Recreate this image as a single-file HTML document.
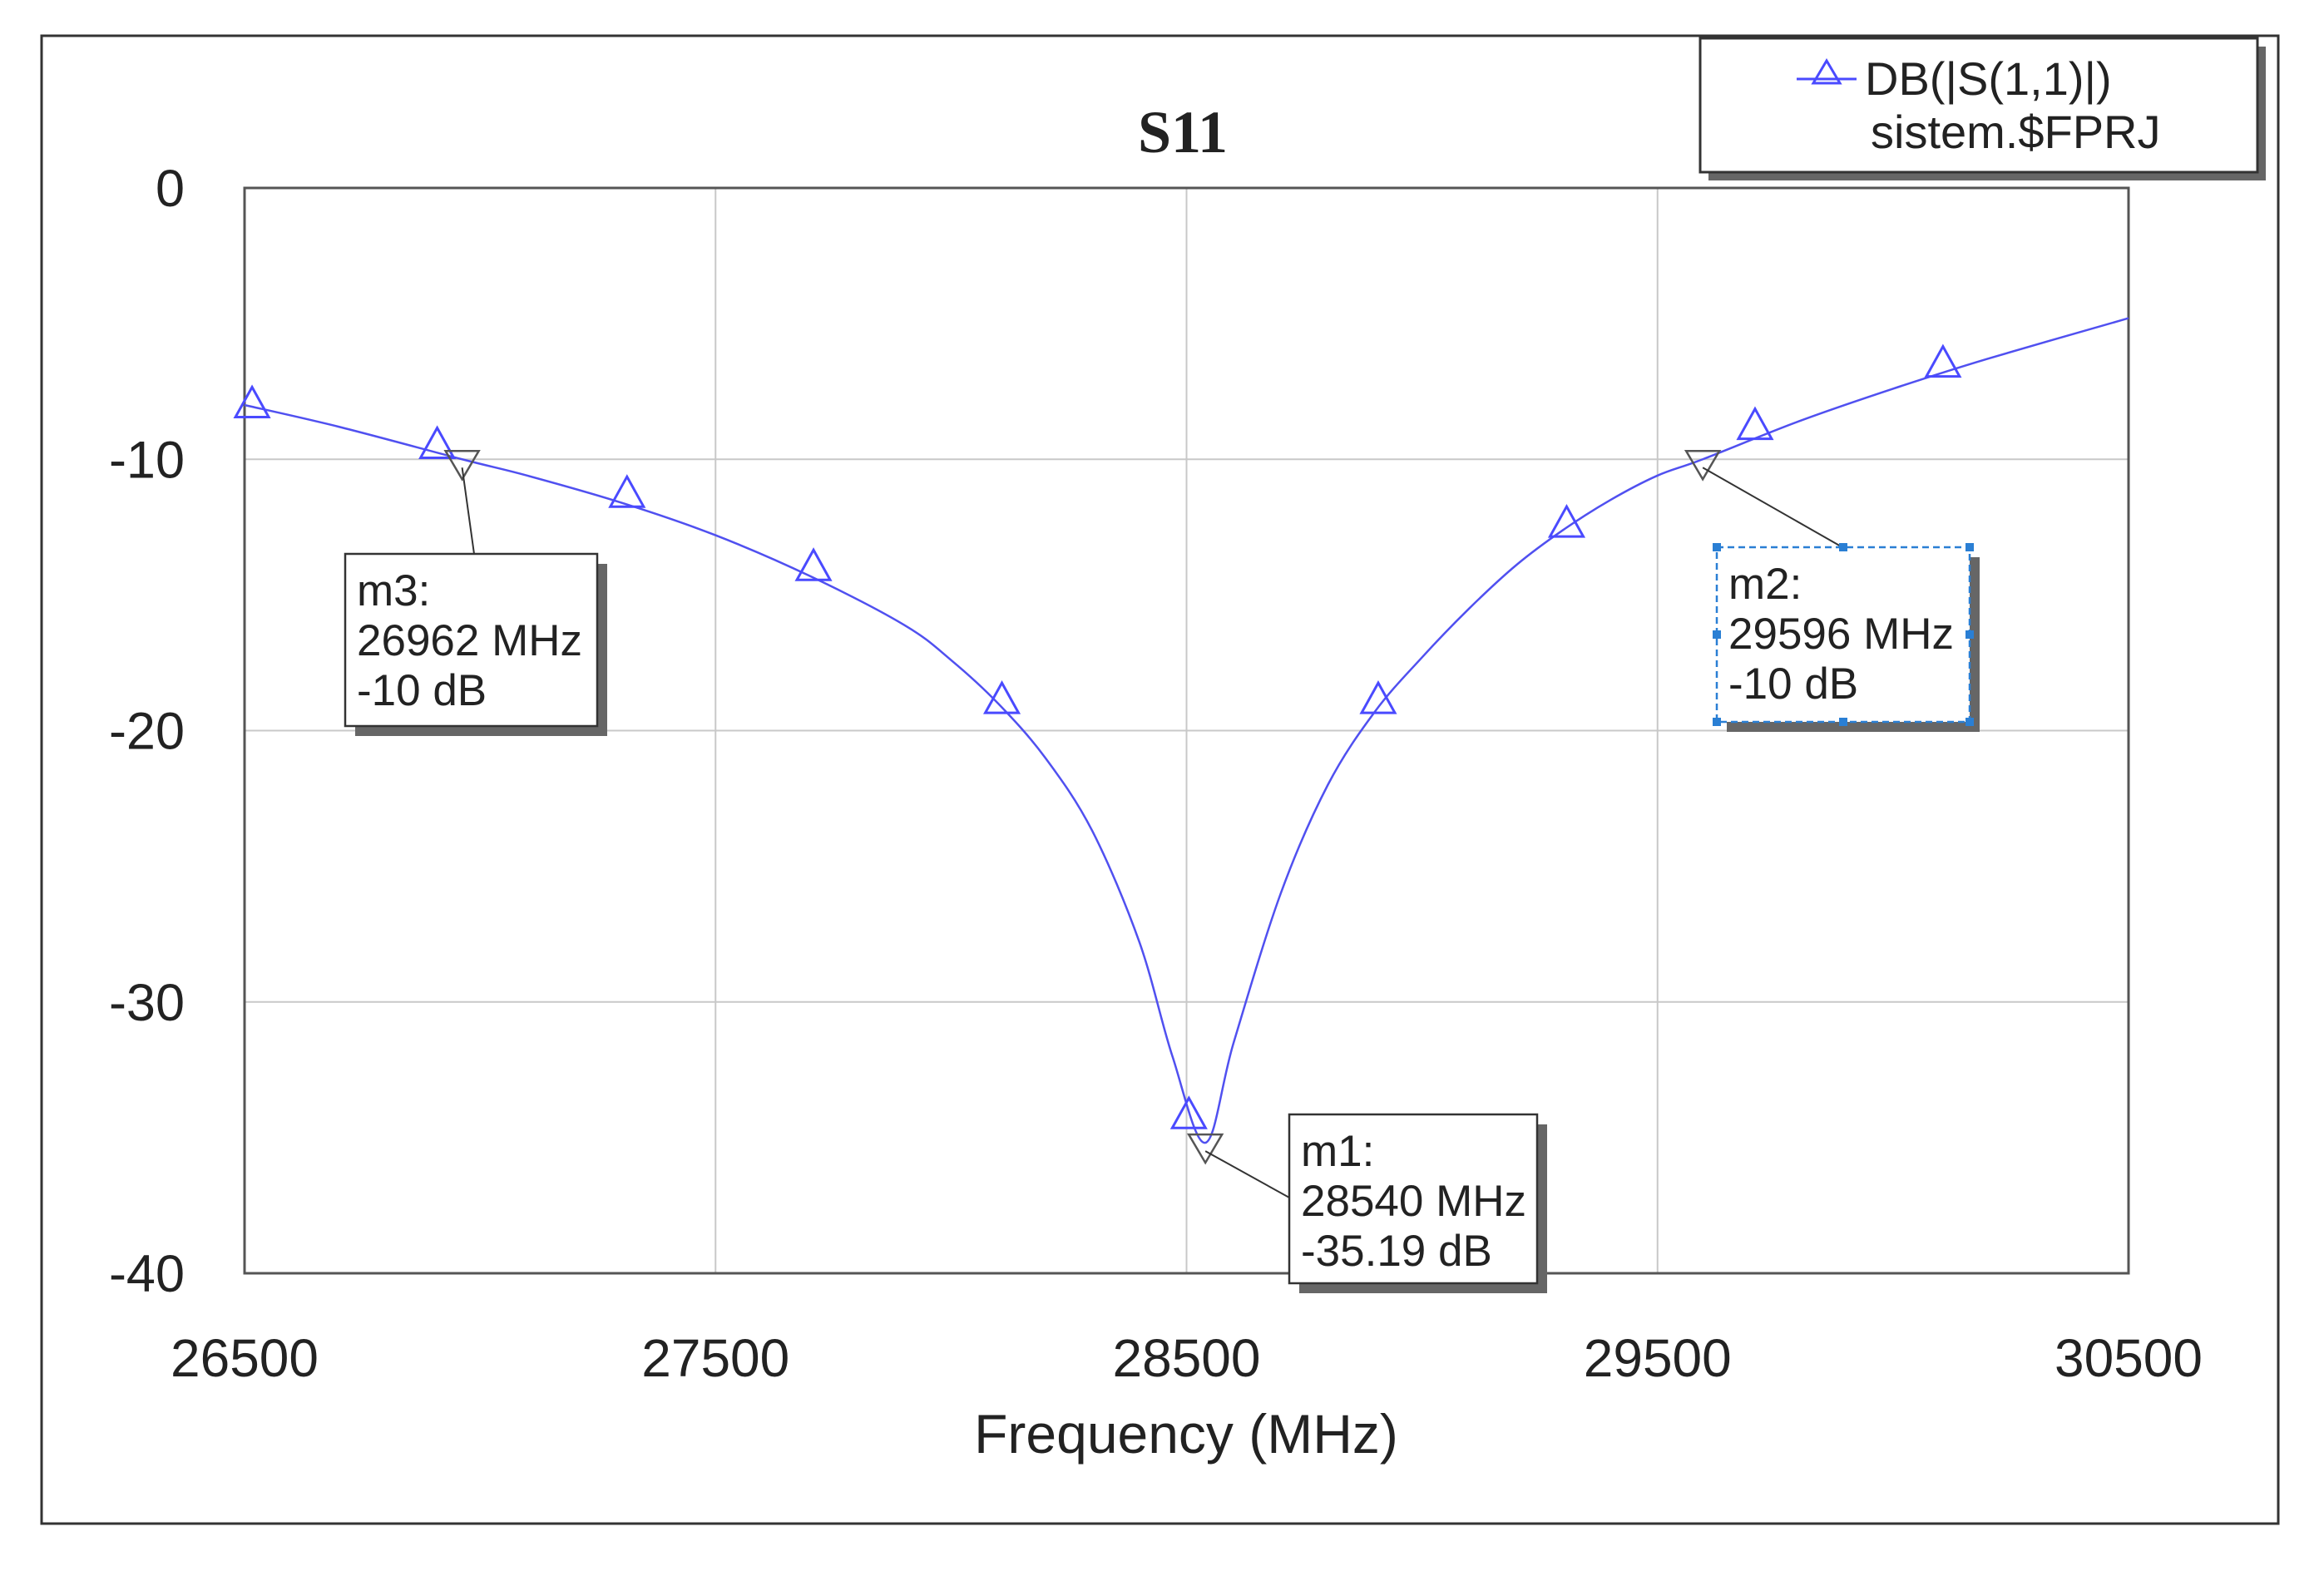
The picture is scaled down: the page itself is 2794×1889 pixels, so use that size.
<!DOCTYPE html>
<html><head><meta charset="utf-8"><style>
html,body{margin:0;padding:0;background:#fff;width:2794px;height:1889px;overflow:hidden}
svg{display:block}
text{font-family:"Liberation Sans",Arial,sans-serif;fill:#222}
</style></head><body>
<svg id="chart" width="2794" height="1889" viewBox="0 0 2794 1889" xmlns="http://www.w3.org/2000/svg">
<rect x="50" y="43" width="2689" height="1789" fill="#fff" stroke="#333" stroke-width="3"/>
<g id="grid"></g>
<rect x="294" y="226" width="2265" height="1305" fill="none" stroke="#555" stroke-width="3"/>
<text x="1422" y="183" font-size="72" font-weight="bold" text-anchor="middle" style="font-family:'Liberation Serif',serif">S11</text>
<g id="ticks"></g>
<text x="1426" y="1747" font-size="66" text-anchor="middle">Frequency (MHz)</text>
<g id="series"></g>
<g id="markers"></g>
<g>
<rect x="2054" y="56" width="670" height="161" fill="#666"/>
<rect x="2044" y="46" width="670" height="161" fill="#fff" stroke="#333" stroke-width="3"/>
<line x1="2160" y1="95" x2="2232" y2="95" stroke="#4a4aff" stroke-width="3"/>
<path d="M2196 73 L2180 100 L2212 100 Z" fill="none" stroke="#4a4aff" stroke-width="3"/>
<text x="2242" y="114" font-size="56">DB(|S(1,1)|)</text>
<text x="2249" y="178" font-size="56">sistem.$FPRJ</text>
</g>
</svg>
<script>
const freqs=[26500,26700,26962,27100,27300,27500,27700,27900,28000,28100,28200,28300,28400,28470,28540,28600,28700,28800,28900,29000,29100,29200,29300,29400,29500,29596,29800,30000,30200,30500];
const s11=[-8.0,-8.8,-10,-10.6,-11.6,-12.8,-14.3,-16.1,-17.4,-19.0,-21,-23.7,-27.8,-32.0,-35.19,-31.5,-26.0,-22.0,-19.3,-17.3,-15.5,-13.9,-12.6,-11.5,-10.6,-10,-8.6,-7.4,-6.3,-4.8];
const markerFreqs=[26516,26909,27312,27708,28108,28505,28907,29307,29707,30106];
const markerVals=[-8.2,-9.7,-11.5,-14.2,-19.1,-34.4,-19.1,-12.6,-9.0,-6.7];
const xTicks=[26500,27500,28500,29500,30500];
const yTicks=[0,-10,-20,-30,-40];
const mNames=["m1","m2","m3"];
const mFreqs=[28540,29596,26962];
const mVals=[-35.19,-10,-10];
const NS="http://www.w3.org/2000/svg";
const X0=294,X1=2559,Y0=226,Y1=1531;
function xs(f){return X0+(f-26500)/4000*(X1-X0);}
function ys(v){return Y0+(0-v)/40*(Y1-Y0);}
function mk(tag,attrs,parent,txt){const e=document.createElementNS(NS,tag);for(const k in attrs)e.setAttribute(k,attrs[k]);if(txt!==undefined)e.textContent=txt;parent.appendChild(e);return e;}
const grid=document.getElementById('grid'),ticks=document.getElementById('ticks');
xTicks.forEach(t=>{
  const l=mk('line',{x1:xs(t),x2:xs(t),y1:Y0,y2:Y1,stroke:'#c8c8c8','stroke-width':2},grid);
  
  
  const tx=mk('text',{x:xs(t),y:1655,'font-size':64,'text-anchor':'middle'},ticks,String(t));
  
  
});
yTicks.forEach(t=>{
  const l=mk('line',{x1:X0,x2:X1,y1:ys(t),y2:ys(t),stroke:'#c8c8c8','stroke-width':2},grid);
  
  
  const tx=mk('text',{x:222,y:ys(t)+22,'font-size':63,'text-anchor':'end'},ticks,String(t));
  
  
});
const pts=freqs.map((f,i)=>[xs(f),ys(s11[i])]);
let d='M'+pts[0][0]+' '+pts[0][1];
for(let i=0;i<pts.length-1;i++){
  const p0=pts[Math.max(0,i-1)],p1=pts[i],p2=pts[i+1],p3=pts[Math.min(pts.length-1,i+2)];
  const c1=[p1[0]+(p2[0]-p0[0])/6,p1[1]+(p2[1]-p0[1])/6];
  const c2=[p2[0]-(p3[0]-p1[0])/6,p2[1]-(p3[1]-p1[1])/6];
  d+=` C${c1[0]} ${c1[1]} ${c2[0]} ${c2[1]} ${p2[0]} ${p2[1]}`;
}
const series=document.getElementById('series');
const path=mk('path',{d:d,fill:'none',stroke:'#5050f0','stroke-width':2.5},series);


markerFreqs.forEach((f,i)=>{
  const x=xs(f),y=ys(markerVals[i]);
  const t=mk('path',{d:`M${x} ${y-28} L${x-20} ${y+8} L${x+20} ${y+8} Z`,fill:'none',stroke:'#4a4aff','stroke-width':3},series);
  
  
});
const boxes={m1:[1550,1340,298,203,1550,1440],m2:[2064,658,304,210,2215,658],m3:[415,666,303,207,570,666]};
const mg=document.getElementById('markers');
mNames.forEach((n,i)=>{
  const x=xs(mFreqs[i]),y=ys(mVals[i]);
  const b=boxes[n];
  const g=mk('g',{},mg);
  
  
  const tri=mk('path',{d:`M${x-20} ${y-10} L${x+20} ${y-10} L${x} ${y+24} Z`,fill:'none',stroke:'#555','stroke-width':2.5},g);
  
  
  const ln=mk('line',{x1:x,y1:y+10,x2:b[4],y2:b[5],stroke:'#333','stroke-width':2},g);
  
  
  mk('rect',{x:b[0]+12,y:b[1]+12,width:b[2],height:b[3],fill:'#666'},g);
  const r=mk('rect',{x:b[0],y:b[1],width:b[2],height:b[3],fill:'#fff',stroke:n==='m2'?'#2a7fd4':'#333','stroke-width':2.5,'stroke-dasharray':n==='m2'?'8 5':'none'},g);
  
  
  const lines=[n+':',mFreqs[i]+' MHz',mVals[i]+' dB'];
  lines.forEach((s,k)=>{
    const t=mk('text',{x:b[0]+14,y:b[1]+62+k*60,'font-size':53},g,s);
    
    
  });
  if(n==='m2'){
    [[0,0],[.5,0],[1,0],[0,.5],[1,.5],[0,1],[.5,1],[1,1]].forEach(p=>{
      const h=mk('rect',{x:b[0]+p[0]*b[2]-5,y:b[1]+p[1]*b[3]-5,width:10,height:10,fill:'#2a7fd4'},g);
      
      
    });
  }
});
</script>
</body></html>
